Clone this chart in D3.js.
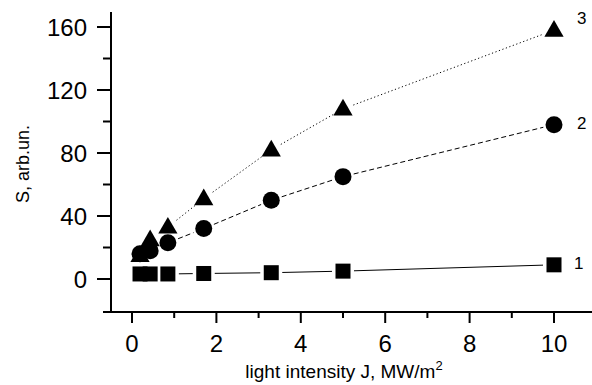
<!DOCTYPE html>
<html>
<head>
<meta charset="utf-8">
<script src="https://cdn.jsdelivr.net/npm/d3@7"></script>
<style>
  body { margin: 0; background: #fff; }
  svg { font-family: "Liberation Sans", Arial, sans-serif; }
</style>
</head>
<body>
<svg id="chart" width="592" height="385"></svg>
<script>
// data
var intensity = [0.19, 0.43, 0.85, 1.7, 3.3, 5.0, 10];
var series1 = [3.2, 3.2, 3.2, 3.5, 4, 5, 9];
var series2 = [16, 18, 23, 32, 50, 65, 98];
var series3 = [15, 25, 33, 51, 82, 108, 158];
var xTicks = [0, 2, 4, 6, 8, 10];
var yTicks = [0, 40, 80, 120, 160];
var seriesNames = ['1', '2', '3'];

var svg = d3.select('#chart');

var x = d3.scaleLinear().domain([0, 10]).range([132, 554]);
var y = d3.scaleLinear().domain([0, 160]).range([279, 27]);

var axisY = 312, axisX = 111;

// axes lines
svg.append('line')
  .attr('x1', 103).attr('x2', 592)
  .attr('y1', axisY).attr('y2', axisY)
  .attr('stroke', '#000').attr('stroke-width', 2);
svg.append('line')
  .attr('x1', axisX).attr('x2', axisX)
  .attr('y1', 12).attr('y2', axisY)
  .attr('stroke', '#000').attr('stroke-width', 2);

// x ticks (major + minor)
d3.range(0, 11, 1).forEach(function(v) {
  var major = v % 2 === 0;
  svg.append('line')
    .attr('x1', x(v)).attr('x2', x(v))
    .attr('y1', axisY).attr('y2', axisY + (major ? 11 : 6))
    .attr('stroke', '#000').attr('stroke-width', 2);
});
svg.selectAll('.xlab').data(xTicks).enter().append('text')
  .attr('class', 'xlab')
  .attr('x', function(d) { return x(d); })
  .attr('y', 352)
  .attr('text-anchor', 'middle')
  .attr('font-size', 24)
  .text(function(d) { return d; });

// y ticks (major + minor)
d3.range(0, 161, 20).forEach(function(v) {
  var major = v % 40 === 0;
  svg.append('line')
    .attr('x1', axisX - (major ? 14 : 8)).attr('x2', axisX)
    .attr('y1', y(v)).attr('y2', y(v))
    .attr('stroke', '#000').attr('stroke-width', 2);
});
svg.selectAll('.ylab').data(yTicks).enter().append('text')
  .attr('class', 'ylab')
  .attr('x', 87)
  .attr('y', function(d) { return y(d) + 9; })
  .attr('text-anchor', 'end')
  .attr('font-size', 24)
  .text(function(d) { return d; });

// axis titles
var xt = svg.append('text')
  .attr('x', 344).attr('y', 378)
  .attr('text-anchor', 'middle')
  .attr('font-size', 19);
xt.append('tspan').text('light intensity J, MW/m');
xt.append('tspan').attr('dy', -8).attr('font-size', 13).text('2');

svg.append('text')
  .attr('transform', 'translate(29,164) rotate(-90)')
  .attr('text-anchor', 'middle')
  .attr('font-size', 18)
  .text('S, arb.un.');

// connecting lines with small gaps at the markers
function drawLine(vals, dash, gap) {
  for (var i = 0; i < vals.length - 1; i++) {
    var x1 = x(intensity[i]), y1 = y(vals[i]);
    var x2 = x(intensity[i + 1]), y2 = y(vals[i + 1]);
    var dx = x2 - x1, dy = y2 - y1, len = Math.sqrt(dx * dx + dy * dy);
    if (len <= 2 * gap) continue;
    var ux = dx / len, uy = dy / len;
    svg.append('line')
      .attr('x1', x1 + ux * gap).attr('y1', y1 + uy * gap)
      .attr('x2', x2 - ux * gap).attr('y2', y2 - uy * gap)
      .attr('stroke', '#000').attr('stroke-width', 1)
      .attr('stroke-dasharray', dash);
  }
}
drawLine(series1, null, 11);
drawLine(series2, '5,3', 11);
drawLine(series3, '1.2,2.5', 11);

// markers
svg.selectAll('.sq').data(series1).enter().append('rect')
  .attr('x', function(d, i) { return x(intensity[i]) - 7.5; })
  .attr('y', function(d) { return y(d) - 7.5; })
  .attr('width', 15).attr('height', 15)
  .attr('fill', '#000');

svg.selectAll('.ci').data(series2).enter().append('circle')
  .attr('cx', function(d, i) { return x(intensity[i]); })
  .attr('cy', function(d) { return y(d); })
  .attr('r', 8.5)
  .attr('fill', '#000');

var tri = d3.symbol().type(d3.symbolTriangle).size(160);
svg.selectAll('.tr').data(series3).enter().append('path')
  .attr('d', tri)
  .attr('transform', function(d, i) { return 'translate(' + x(intensity[i]) + ',' + (y(d) + 1) + ')'; })
  .attr('fill', '#000');

// series labels
var labelPos = [[574, 269], [577, 129], [577, 24]];
seriesNames.forEach(function(n, i) {
  svg.append('text')
    .attr('x', labelPos[i][0]).attr('y', labelPos[i][1])
    .attr('font-size', 17)
    .text(n);
});
</script>
</body>
</html>
